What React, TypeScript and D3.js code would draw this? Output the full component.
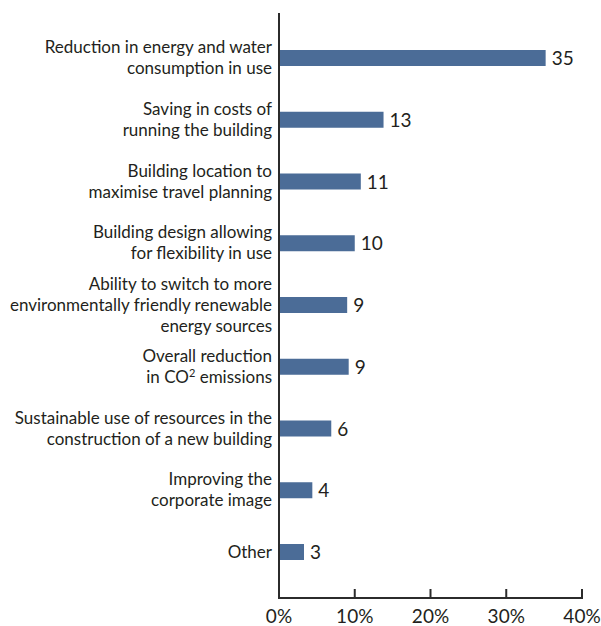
import React from "react";
import * as d3 from "d3";

const categories: string[][] = [
  ["Reduction in energy and water", "consumption in use"],
  ["Saving in costs of", "running the building"],
  ["Building location to", "maximise travel planning"],
  ["Building design allowing", "for flexibility in use"],
  ["Ability to switch to more", "environmentally friendly renewable", "energy sources"],
  ["Overall reduction", "in CO|2| emissions"],
  ["Sustainable use of resources in the", "construction of a new building"],
  ["Improving the", "corporate image"],
  ["Other"],
];
const barValues: number[] = [35.2, 13.8, 10.8, 10.0, 9.0, 9.2, 6.9, 4.4, 3.3];
const valueLabels: string[] = ["35", "13", "11", "10", "9", "9", "6", "4", "3"];
const tickValues: number[] = [0, 10, 20, 30, 40];

const W = 601;
const H = 626;
const FONT = "Lato, 'Open Sans', sans-serif";
const TEXT = "#231f20";
const BAR = "#4b6c97";

function renderLine(line: string) {
  const parts = line.split("|");
  if (parts.length === 1) return line;
  return (
    <>
      {parts[0]}
      <tspan fontSize="11" dy="-6">{parts[1]}</tspan>
      <tspan dy="6">{parts[2]}</tspan>
    </>
  );
}

export default function App() {
  const x = d3.scaleLinear().domain([0, 40]).range([279, 582]);
  const idx = categories.map((_, i) => String(i));
  const y = d3.scalePoint<string>().domain(idx).range([58, 552]);
  const barH = 16;
  const axisTop = 13;
  const axisBottom = 598;

  return (
    <svg
      width={W}
      height={H}
      style={{ position: "absolute", left: 0, top: 0, background: "#fff" }}
      fontFamily={FONT}
    >
      {barValues.map((v, i) => {
        const cy = y(String(i))!;
        return (
          <g key={i}>
            <rect x={x(0)} y={cy - barH / 2} width={x(v) - x(0)} height={barH} fill={BAR} />
            <text x={x(v) + 6} y={cy + 7} fontSize="19" fill={TEXT}>
              {valueLabels[i]}
            </text>
          </g>
        );
      })}
      {categories.map((lines, i) => {
        const cy = y(String(i))!;
        const n = lines.length;
        return (
          <text key={i} textAnchor="end" fontSize="17" fill={TEXT}>
            {lines.map((ln, j) => (
              <tspan key={j} x={272} y={cy + 5.5 + (j - (n - 1) / 2) * 21}>
                {renderLine(ln)}
              </tspan>
            ))}
          </text>
        );
      })}
      <line x1={x(0)} x2={x(0)} y1={axisTop} y2={axisBottom} stroke="#2b2b2b" strokeWidth={2} />
      <line x1={x(0) - 1} x2={x(40) + 1} y1={axisBottom} y2={axisBottom} stroke="#2b2b2b" strokeWidth={2} />
      {tickValues.map((t) => (
        <g key={t}>
          {t > 0 && (
            <line x1={x(t)} x2={x(t)} y1={axisBottom} y2={axisBottom - 9} stroke="#2b2b2b" strokeWidth={2} />
          )}
          <text x={x(t)} y={623} textAnchor="middle" fontSize="19" fill={TEXT}>
            {t}%
          </text>
        </g>
      ))}
    </svg>
  );
}
